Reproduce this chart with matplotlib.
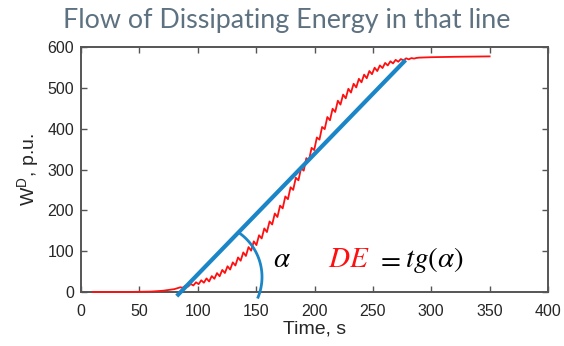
import numpy as np
import matplotlib
matplotlib.use("Agg")
import matplotlib.pyplot as plt

# ---- data ----
t_start = [10, 40, 60, 70, 80]
w_start = [0.0, 0.0, 1.0, 3.0, 7.0]

t_osc0, t_osc_step, n_osc = 85.0, 2.25, 91
w_osc = [11.5, 10.6, 15.6, 13.4, 19.7, 16.0, 23.8, 19.2, 28.7, 22.7,
         33.3, 25.8, 39.0, 32.4, 46.3, 38.6, 54.0, 46.5, 63.0, 55.0,
         72.5, 64.9, 84.7, 76.6, 96.9, 88.3, 110.0, 101.3, 124.0, 114.9,
         139.0, 131.1, 155.7, 146.8, 172.8, 165.3, 192.2, 183.7, 211.5, 204.8,
         234.0, 227.3, 256.5, 250.1, 279.8, 273.5, 303.2, 297.2, 327.8, 322.4,
         353.0, 347.6, 378.4, 373.2, 404.1, 398.9, 428.5, 420.6, 448.8, 440.9,
         468.5, 458.9, 483.4, 474.3, 497.7, 488.4, 510.0, 501.0, 522.1, 513.5,
         532.3, 523.5, 541.2, 533.4, 549.3, 541.1, 555.0, 548.4, 561.0, 554.8,
         565.0, 559.8, 568.5, 563.9, 570.5, 567.1, 572.3, 569.7, 572.9, 571.6,
         573.3]

t_end = [290, 300, 320, 350]
w_end = [574.0, 575.0, 576.0, 577.0]

fit_t = [82, 278]
fit_w = [-10, 568]

xticks = [0, 50, 100, 150, 200, 250, 300, 350, 400]
yticks = [0, 100, 200, 300, 400, 500, 600]

title = "Flow of Dissipating Energy in that line"

# ---- assemble ----
t_osc = [t_osc0 + t_osc_step * k for k in range(n_osc)]
t_all = np.array(t_start + t_osc + t_end)
w_all = np.array(w_start + w_osc + w_end)

W, H = 564, 346
plt.rcParams["mathtext.fontset"] = "stix"
fig = plt.figure(figsize=(W / 100, H / 100), dpi=100)
ax = fig.add_axes([81 / W, 1 - 292 / H, (548 - 81) / W, (292 - 47) / H])
ax.set_xlim(0, 400)
ax.set_ylim(0, 600)

red = "#ff1010"
blue = "#1a86c8"
ax.plot(t_all, w_all, color=red, lw=1.3, zorder=3, clip_on=False)
ax.plot(fit_t, fit_w, color=blue, lw=3.0, solid_capstyle="butt", clip_on=False, zorder=4)

# angle arc (annotation), circle drawn in pixel space
fig.canvas.draw()
trans = ax.transData
pix = lambda x, y: (x, H - y)  # image pixel -> display
cx, cy = pix(208, 277)
r = 54.0
th = np.radians(np.linspace(-22, 55, 80))
pts = np.column_stack([cx + r * np.cos(th), cy + r * np.sin(th)])
arc_d = trans.inverted().transform(pts)
ax.plot(arc_d[:, 0], arc_d[:, 1], color=blue, lw=2.0, clip_on=False, zorder=4)

def dpt(px, py):
    return trans.inverted().transform(pix(px, py))

fs = 21
x, y = dpt(282, 267)
ax.text(x, y, r"$\alpha$", fontsize=fs, ha="center", va="baseline", color="black")
x, y = dpt(328, 267)
ax.text(x, y, r"$DE$", fontsize=fs, ha="left", va="baseline", color=red)
x, y = dpt(376, 267)
ax.text(x, y, r"$=$", fontsize=fs, ha="left", va="baseline", color="black")
x, y = dpt(405, 267)
ax.text(x, y, r"$tg(\alpha)$", fontsize=fs, ha="left", va="baseline", color="black")

ax.set_xticks(xticks)
ax.set_yticks(yticks)
tick_font = "Liberation Sans"
ax.set_xticklabels([str(v) for v in xticks], fontsize=11.5, family=tick_font, color="#262626")
ax.set_yticklabels([str(v) for v in yticks], fontsize=11.5, family=tick_font, color="#262626")
ax.tick_params(direction="in", length=4, width=1.0, color="#555555", top=True, right=True)
ax.tick_params(axis="x", pad=9)
ax.tick_params(axis="y", pad=5)
for s in ax.spines.values():
    s.set_color("#555555")
    s.set_linewidth(1.4)

ax.set_xlabel("Time, s", fontsize=14, family=tick_font, color="#262626", labelpad=1)
ax.set_ylabel(r"W$^{\mathregular{D}}$, p.u.", fontsize=14, family=tick_font, color="#262626", labelpad=4)

tt = fig.text(287 / W, 1 - 28 / H, title, fontsize=19, family="Lato",
              color="#5d7180", ha="center", va="baseline")
fig.canvas.draw()
bb = tt.get_window_extent()
tt.set_fontsize(19 * 449 / bb.width)

fig.savefig("out.png", dpi=100)
